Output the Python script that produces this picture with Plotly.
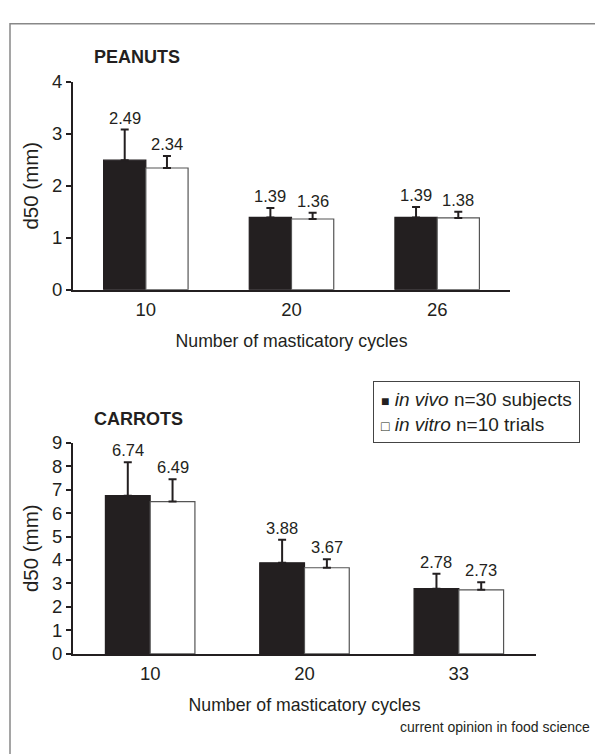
import plotly.graph_objects as go

W, H = 595, 754

# ---- data ----
peanut_cycles = ["10", "20", "26"]
peanut_vivo = [2.49, 1.39, 1.39]
peanut_vivo_err = [0.59, 0.18, 0.20]
peanut_vitro = [2.34, 1.36, 1.38]
peanut_vitro_err = [0.23, 0.12, 0.12]

carrot_cycles = ["10", "20", "33"]
carrot_vivo = [6.74, 3.88, 2.78]
carrot_vivo_err = [1.42, 0.98, 0.63]
carrot_vitro = [6.49, 3.67, 2.73]
carrot_vitro_err = [0.95, 0.36, 0.32]

series_names = ["<i>in vivo</i> n=30 subjects", "<i>in vitro</i> n=10 trials"]
legend_marks = ["\u25A0", "\u25A1"]
panel_titles = ["PEANUTS", "CARROTS"]
x_title = "Number of masticatory cycles"
y_title = "d50 (mm)"
source_text = "current opinion in food science"

INK = "#231f20"
FONT = "Arial, Liberation Sans, Helvetica, sans-serif"
BARGAP = 0.42


def px(x):
    return x / W


def py(y):
    return 1 - y / H


fig = go.Figure()

panels = [
    dict(cats=peanut_cycles, vivo=peanut_vivo, vivo_err=peanut_vivo_err,
         vitro=peanut_vitro, vitro_err=peanut_vitro_err, xa="x", ya="y"),
    dict(cats=carrot_cycles, vivo=carrot_vivo, vivo_err=carrot_vivo_err,
         vitro=carrot_vitro, vitro_err=carrot_vitro_err, xa="x2", ya="y2"),
]

annotations = []
offset = (1 - BARGAP) / 4
for p in panels:
    for k, (vals, errs, fill, lc) in enumerate([
        (p["vivo"], p["vivo_err"], INK, INK),
        (p["vitro"], p["vitro_err"], "#ffffff", "#555555"),
    ]):
        fig.add_trace(go.Bar(
            x=p["cats"], y=vals, name=series_names[k],
            legendgroup=str(k), showlegend=False,
            marker=dict(color=fill, line=dict(color=lc, width=1.2)),
            error_y=dict(type="data", array=errs, arrayminus=[0] * len(errs),
                         symmetric=False, color=INK, thickness=2, width=4),
            xaxis=p["xa"], yaxis=p["ya"],
        ))
        sign = -1 if k == 0 else 1
        for i, (v, e) in enumerate(zip(vals, errs)):
            annotations.append(dict(
                x=i + sign * offset, y=v + e, xref=p["xa"], yref=p["ya"],
                text=f"{v:.2f}", showarrow=False, yanchor="bottom", yshift=1,
                font=dict(size=16.5, color=INK, family=FONT),
            ))

# panel titles
annotations.append(dict(x=px(92), y=py(47), xref="paper", yref="paper", text=f"<b>{panel_titles[0]}</b>",
                        showarrow=False, xanchor="left", yanchor="middle",
                        font=dict(size=18, color=INK, family=FONT)))
annotations.append(dict(x=px(92), y=py(420), xref="paper", yref="paper", text=f"<b>{panel_titles[1]}</b>",
                        showarrow=False, xanchor="left", yanchor="middle",
                        font=dict(size=18, color=INK, family=FONT)))
annotations.append(dict(x=px(592), y=py(737), xref="paper", yref="paper", text=source_text,
                        showarrow=False, xanchor="right", yanchor="middle",
                        font=dict(size=14, color=INK, family=FONT)))
# legend box
legend_text = "<br>".join(f"<span style='font-size:14px'>{m}</span> {n}" for m, n in zip(legend_marks, series_names))
annotations.append(dict(x=px(373), y=py(381), xref="paper", yref="paper", text=legend_text,
                        showarrow=False, xanchor="left", yanchor="top", align="left",
                        bordercolor="#444444", borderwidth=1, borderpad=7, bgcolor="white",
                        font=dict(size=19, color=INK, family=FONT)))

axis_common = dict(showline=True, linecolor=INK, linewidth=2, showgrid=False,
                   zeroline=False, tickfont=dict(size=18.5, color=INK, family=FONT))
x_title_font = dict(size=17.7, color=INK, family=FONT)
y_title_font = dict(size=20.5, color=INK, family=FONT)

fig.update_layout(
    width=W, height=H,
    margin=dict(l=0, r=0, t=0, b=0),
    paper_bgcolor="white", plot_bgcolor="white",
    barmode="group", bargap=BARGAP, bargroupgap=0,
    font=dict(family=FONT, color=INK),
    showlegend=False,
    xaxis=dict(domain=[px(73), px(510)], anchor="y", ticks="", ticklabelstandoff=2,
               title=dict(text=x_title, standoff=16, font=x_title_font), **axis_common),
    yaxis=dict(domain=[py(286.7), py(72.7)], anchor="x", range=[0, 4], dtick=1,
               ticks="outside", ticklen=5, tickcolor=INK, tickwidth=2,
               title=dict(text=y_title, standoff=8, font=y_title_font), **axis_common),
    xaxis2=dict(domain=[px(73), px(536)], anchor="y2", ticks="", ticklabelstandoff=2,
                title=dict(text=x_title, standoff=16, font=x_title_font), **axis_common),
    yaxis2=dict(domain=[py(661.3), py(444)], anchor="x2", range=[0, 9], dtick=1,
                ticks="outside", ticklen=5, tickcolor=INK, tickwidth=2,
                title=dict(text=y_title, standoff=8, font=y_title_font), **axis_common),
    annotations=annotations,
    shapes=[dict(type="rect", xref="paper", yref="paper",
                 x0=px(10), x1=1.05, y0=-0.05, y1=py(13),
                 line=dict(color="#888888", width=1.5), layer="below")],
)

fig.write_html("out.html", config={"displayModeBar": False},
               post_script="document.body.style.margin='0px';document.body.style.overflow='hidden';")
